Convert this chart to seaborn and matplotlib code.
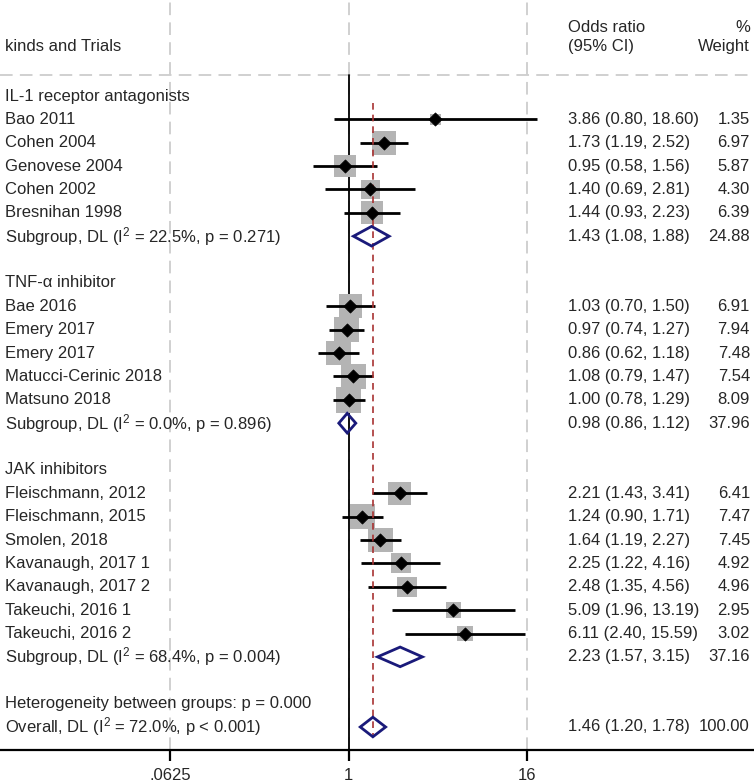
import numpy as np
import pandas as pd
import matplotlib
matplotlib.use("Agg")
import matplotlib.pyplot as plt
import seaborn as sns
from matplotlib.patches import Polygon

sns.set_theme(style="white")
plt.rcParams['font.family'] = ['Liberation Sans', 'DejaVu Sans']
plt.rcParams['mathtext.fontset'] = 'custom'
plt.rcParams['mathtext.rm'] = 'Liberation Sans'
plt.rcParams['mathtext.it'] = 'Liberation Sans'

# ---------------- data ----------------
groups = ["IL-1 receptor antagonists", "TNF-α inhibitor", "JAK inhibitors"]

il1_studies = ["Bao 2011", "Cohen 2004", "Genovese 2004", "Cohen 2002", "Bresnihan 1998"]
il1_or = [3.86, 1.73, 0.95, 1.40, 1.44]
il1_lo = [0.80, 1.19, 0.58, 0.69, 0.93]
il1_hi = [18.60, 2.52, 1.56, 2.81, 2.23]
il1_w = [1.35, 6.97, 5.87, 4.30, 6.39]

tnf_studies = ["Bae 2016", "Emery 2017", "Emery 2017", "Matucci-Cerinic 2018", "Matsuno 2018"]
tnf_or = [1.03, 0.97, 0.86, 1.08, 1.00]
tnf_lo = [0.70, 0.74, 0.62, 0.79, 0.78]
tnf_hi = [1.50, 1.27, 1.18, 1.47, 1.29]
tnf_w = [6.91, 7.94, 7.48, 7.54, 8.09]

jak_studies = ["Fleischmann, 2012", "Fleischmann, 2015", "Smolen, 2018", "Kavanaugh, 2017 1",
               "Kavanaugh, 2017 2", "Takeuchi, 2016 1", "Takeuchi, 2016 2"]
jak_or = [2.21, 1.24, 1.64, 2.25, 2.48, 5.09, 6.11]
jak_lo = [1.43, 0.90, 1.19, 1.22, 1.35, 1.96, 2.40]
jak_hi = [3.41, 1.71, 2.27, 4.16, 4.56, 13.19, 15.59]
jak_w = [6.41, 7.47, 7.45, 4.92, 4.96, 2.95, 3.02]

sub_or = [1.43, 0.98, 2.23]
sub_lo = [1.08, 0.86, 1.57]
sub_hi = [1.88, 1.12, 3.15]
sub_w = [24.88, 37.96, 37.16]
sub_i2 = ["22.5%", "0.0%", "68.4%"]
sub_p = ["0.271", "0.896", "0.004"]

overall_or, overall_lo, overall_hi, overall_w = 1.46, 1.20, 1.78, 100.00
overall_i2 = "72.0%"
het_p = "0.000"

x_ticks = [0.0625, 1, 16]
x_ticklabels = [".0625", "1", "16"]

# ---------------- build rows ----------------
study_rows = []
sub_rows = []
label_rows = []  # (row, text)
row = 0
blocks = [(il1_studies, il1_or, il1_lo, il1_hi, il1_w),
          (tnf_studies, tnf_or, tnf_lo, tnf_hi, tnf_w),
          (jak_studies, jak_or, jak_lo, jak_hi, jak_w)]
for gi, (names, ors, los, his, ws) in enumerate(blocks):
    label_rows.append((row, groups[gi]))
    row += 1
    for n, o, l, h, w in zip(names, ors, los, his, ws):
        study_rows.append(dict(row=row, name=n, OR=o, lo=l, hi=h, w=w))
        row += 1
    sub_rows.append(dict(row=row, OR=sub_or[gi], lo=sub_lo[gi], hi=sub_hi[gi], w=sub_w[gi],
                         name=f"Subgroup, DL (I$^{{2}}$ = {sub_i2[gi]}, p = {sub_p[gi]})"))
    row += 2
het_row = row
overall_row = het_row + 1
df = pd.DataFrame(study_rows)
sdf = pd.DataFrame(sub_rows)

# ---------------- figure ----------------
W, H = 754, 783
fig = plt.figure(figsize=(W / 100, H / 100), dpi=100)
ax = fig.add_axes([0, 1 - 750 / H, 1, 750 / H])

ax.set_xscale('log', base=2)
ax.set_xlim(2 ** -7.81, 2 ** 9.087)
row_px = 23.37
ax.set_ylim((750 - 96) / row_px, -96 / row_px)

fs = 12
gray = '#cdcdcd'
# gridlines
for t in x_ticks:
    ax.axvline(t, color=gray, lw=1.3, ls=(0, (7, 4)), zorder=0)
ax.axhline(-0.9, color=gray, lw=1.3, ls=(0, (7, 4)), zorder=0)
# null line
ax.plot([1, 1], [-0.9, ax.get_ylim()[0]], color='black', lw=1.3, zorder=2)
# overall dashed line
ax.plot([overall_or, overall_or], [0.3, overall_row + 0.4], color='#a83232', lw=1.2,
        ls=(0, (4, 3)), zorder=5)

# weight squares
sns.scatterplot(data=df, x='OR', y='row', size='w', sizes=(42 * min(df.w), 42 * max(df.w)),
                size_norm=(min(df.w), max(df.w)), marker='s', color='#b4b4b4',
                edgecolor='none', legend=False, ax=ax, zorder=3)
# CI lines
for _, r in df.iterrows():
    ax.plot([r.lo, r.hi], [r.row, r.row], color='black', lw=2, zorder=4, solid_capstyle='butt')
# point markers
sns.scatterplot(data=df, x='OR', y='row', marker='D', color='black', s=45,
                edgecolor='black', legend=False, ax=ax, zorder=6)

# diamonds
def diamond(o, l, h, y):
    p = Polygon([(l, y), (o, y - 0.42), (h, y), (o, y + 0.42)], closed=True,
                facecolor='none', edgecolor='#1a1a7a', lw=2, zorder=7)
    ax.add_patch(p)

for _, r in sdf.iterrows():
    diamond(r.OR, r.lo, r.hi, r.row)
diamond(overall_or, overall_lo, overall_hi, overall_row)

# texts
tr = ax.get_yaxis_transform()
xl, xo, xw = 5 / W, 568 / W, 750 / W
ax.text(xl, -2.1, "kinds and Trials", transform=tr, fontsize=fs, va='center', ha='left')
ax.text(xo, -2.95, "Odds ratio", transform=tr, fontsize=fs, va='center', ha='left')
ax.text(xo, -2.1, "(95% CI)", transform=tr, fontsize=fs, va='center', ha='left')
ax.text(xw, -2.95, "%", transform=tr, fontsize=fs, va='center', ha='right')
ax.text(xw, -2.1, "Weight", transform=tr, fontsize=fs, va='center', ha='right')

for r, t in label_rows:
    ax.text(xl, r, t, transform=tr, fontsize=fs, va='center', ha='left')
for _, r in pd.concat([df, sdf]).iterrows():
    ax.text(xl, r.row, r['name'], transform=tr, fontsize=fs, va='center', ha='left')
    ax.text(xo, r.row, f"{r.OR:.2f} ({r.lo:.2f}, {r.hi:.2f})", transform=tr, fontsize=fs,
            va='center', ha='left')
    ax.text(xw, r.row, f"{r.w:.2f}", transform=tr, fontsize=fs, va='center', ha='right')
ax.text(xl, het_row, f"Heterogeneity between groups: p = {het_p}", transform=tr, fontsize=fs,
        va='center', ha='left')
ax.text(xl, overall_row, f"Overall, DL (I$^{{2}}$ = {overall_i2}, p < 0.001)", transform=tr,
        fontsize=fs, va='center', ha='left')
ax.text(xo, overall_row, f"{overall_or:.2f} ({overall_lo:.2f}, {overall_hi:.2f})", transform=tr,
        fontsize=fs, va='center', ha='left')
ax.text(xw, overall_row, f"{overall_w:.2f}", transform=tr, fontsize=fs, va='center', ha='right')

# axes styling
for s in ['top', 'left', 'right']:
    ax.spines[s].set_visible(False)
ax.spines['bottom'].set_color('black')
ax.spines['bottom'].set_linewidth(1.6)
ax.set_xticks(x_ticks)
ax.set_xticklabels(x_ticklabels)
ax.minorticks_off()
ax.tick_params(axis='x', which='major', direction='out', length=8, width=1.6, color='black',
               labelsize=fs, pad=5, bottom=True)
ax.set_yticks([])
ax.set_xlabel("")
ax.set_ylabel("")
ax.grid(False)

fig.savefig("out.png", dpi=100)
